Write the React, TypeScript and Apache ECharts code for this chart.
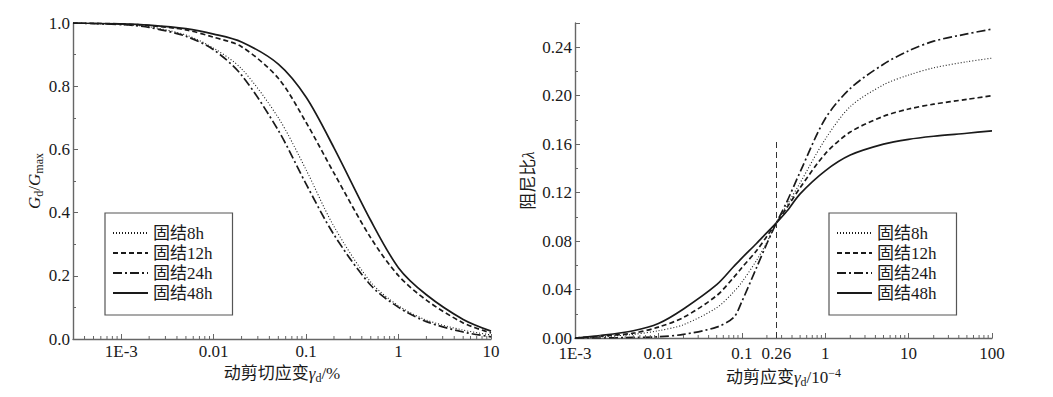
import React, { useEffect, useRef } from 'react';
import * as echarts from 'echarts';

// ---------- data ----------
const seriesNames = ['固结8h', '固结12h', '固结24h', '固结48h'];
const xTickLabels = ['1E-3', '0.01', '0.1', '1', '10', '100']; // exponents -3 .. 2

// Left: G_d/G_max vs dynamic shear strain (%)
const leftX = [0.0003, 0.001, 0.002, 0.005, 0.01, 0.02, 0.05, 0.1, 0.2, 0.5, 1, 2, 5, 10];
const left8h = [1.0, 0.995, 0.988, 0.962, 0.92, 0.855, 0.7, 0.535, 0.356, 0.18, 0.105, 0.06, 0.028, 0.013];
const left12h = [1.0, 0.997, 0.992, 0.978, 0.955, 0.925, 0.825, 0.685, 0.525, 0.32, 0.2, 0.123, 0.051, 0.019];
const left24h = [1.0, 0.995, 0.986, 0.958, 0.915, 0.835, 0.66, 0.49, 0.33, 0.17, 0.1, 0.055, 0.022, 0.007];
const left48h = [1.0, 0.997, 0.993, 0.982, 0.965, 0.94, 0.87, 0.765, 0.605, 0.375, 0.225, 0.14, 0.062, 0.025];

// Right: damping ratio vs dynamic shear strain (1e-4)
const rightX = [0.001, 0.002, 0.005, 0.01, 0.02, 0.05, 0.08, 0.1, 0.15, 0.2, 0.26, 0.35, 0.5, 1, 2, 5, 10, 20, 50, 100];
const right8h = [0, 0.001, 0.003, 0.006, 0.011, 0.025, 0.038, 0.046, 0.064, 0.079, 0.095, 0.11, 0.128, 0.164, 0.191, 0.209, 0.217, 0.223, 0.228, 0.231];
const right12h = [0, 0.0015, 0.004, 0.009, 0.017, 0.035, 0.05, 0.058, 0.072, 0.084, 0.095, 0.108, 0.124, 0.152, 0.17, 0.183, 0.189, 0.193, 0.197, 0.2];
const right24h = [0, 0, 0.0005, 0.001, 0.003, 0.009, 0.017, 0.03, 0.058, 0.078, 0.095, 0.113, 0.137, 0.181, 0.206, 0.226, 0.237, 0.245, 0.251, 0.255];
const right48h = [0, 0.002, 0.006, 0.012, 0.024, 0.044, 0.059, 0.066, 0.078, 0.087, 0.095, 0.105, 0.119, 0.138, 0.151, 0.16, 0.164, 0.1665, 0.169, 0.171];

const leftMinorTicks = [
  0.0004, 0.0005, 0.0006, 0.0007, 0.0008, 0.0009,
  0.002, 0.003, 0.004, 0.005, 0.006, 0.007, 0.008, 0.009,
  0.02, 0.03, 0.04, 0.05, 0.06, 0.07, 0.08, 0.09,
  0.2, 0.3, 0.4, 0.5, 0.6, 0.7, 0.8, 0.9,
  2, 3, 4, 5, 6, 7, 8, 9,
];
const rightMinorTicks = [
  0.002, 0.003, 0.004, 0.005, 0.006, 0.007, 0.008, 0.009,
  0.02, 0.03, 0.04, 0.05, 0.06, 0.07, 0.08, 0.09,
  0.2, 0.3, 0.4, 0.5, 0.6, 0.7, 0.8, 0.9,
  2, 3, 4, 5, 6, 7, 8, 9,
  20, 30, 40, 50, 60, 70, 80, 90,
];
const markerStrain = 0.26;
const markerTop = 0.162;

// ---------- styles ----------
const FONT = "'Liberation Serif', 'Noto Sans CJK SC', serif";
const INK = '#1a1a1a';
const AXIS = '#666666';
const lineStyles: any[] = [
  { type: [1, 2], width: 1.1 },
  { type: [5, 3], width: 1.7 },
  { type: [9, 3, 2, 3], width: 1.7 },
  { type: 'solid', width: 1.7 },
];

const xFormatter = (v: number) => {
  const e = Math.round(Math.log10(v));
  return xTickLabels[e + 3] ?? '';
};

const richBase = {
  a: { fontSize: 17, fontFamily: FONT, color: INK },
  g: { fontSize: 17, fontFamily: FONT, color: INK, fontStyle: 'italic' },
  s: { fontSize: 12, fontFamily: FONT, color: INK, padding: [9, 0, 0, 0] },
  p: { fontSize: 12, fontFamily: FONT, color: INK, padding: [0, 0, 9, 0] },
};

function logAxis(gridIndex: number, min: number, max: number, name: string, margin: number, showMin: boolean, nameGap: number) {
  return {
    type: 'log',
    logBase: 10,
    gridIndex,
    min,
    max,
    name,
    nameLocation: 'middle',
    nameGap,
    nameTextStyle: { fontSize: 17, fontFamily: FONT, color: INK, rich: richBase },
    axisLine: { show: true, lineStyle: { color: AXIS, width: 1.4 } },
    axisTick: { show: true, inside: true, length: 5, lineStyle: { color: AXIS, width: 1 } },
    axisLabel: { color: INK, fontSize: 17, fontFamily: FONT, margin, showMinLabel: showMin, formatter: xFormatter },
    splitLine: { show: false },
  };
}

function valAxis(gridIndex: number, max: number, interval: number, digits: number, name: string, nameGap: number) {
  return {
    type: 'value',
    gridIndex,
    min: 0,
    max,
    interval,
    name,
    nameLocation: 'middle',
    nameRotate: 90,
    nameGap,
    nameTextStyle: { fontSize: 17, fontFamily: FONT, color: INK, rich: richBase },
    axisLine: { show: true, lineStyle: { color: AXIS, width: 1.4 } },
    axisTick: { show: true, inside: true, length: 5, lineStyle: { color: AXIS, width: 1 } },
    minorTick: { show: true, splitNumber: 2, length: 3, lineStyle: { color: AXIS, width: 1 } },
    axisLabel: {
      color: INK, fontSize: 17, fontFamily: FONT, margin: 3, showMaxLabel: digits === 1,
      formatter: (v: number) => v.toFixed(digits),
    },
    splitLine: { show: false },
    minorSplitLine: { show: false },
  };
}

function minorTickSeries(idx: number, ticks: number[]) {
  return {
    type: 'custom',
    xAxisIndex: idx,
    yAxisIndex: idx,
    silent: true,
    clip: false,
    z: 5,
    data: ticks.map((v) => [v, 0]),
    renderItem: (_p: any, api: any) => {
      const pt = api.coord([api.value(0), api.value(1)]);
      return {
        type: 'line',
        shape: { x1: pt[0], y1: pt[1], x2: pt[0], y2: pt[1] - 3 },
        style: { stroke: AXIS, lineWidth: 1 },
      };
    },
  };
}

function lineSeries(idx: number, k: number, xs: number[], ys: number[]) {
  return {
    type: 'line',
    name: seriesNames[k],
    xAxisIndex: idx,
    yAxisIndex: idx,
    data: xs.map((x, i) => [x, ys[i]]),
    symbol: 'none',
    showSymbol: false,
    smooth: 0.3,
    lineStyle: { color: INK, width: lineStyles[k].width, type: lineStyles[k].type },
    itemStyle: { color: INK },
    z: 3,
  };
}

function legendAt(left: number) {
  return {
    data: seriesNames,
    orient: 'vertical',
    left,
    top: 213,
    itemWidth: 35,
    itemHeight: 20,
    itemGap: 0,
    padding: [10, 20, 12, 7],
    borderColor: '#555',
    borderWidth: 1.2,
    selectedMode: false,
    itemStyle: { color: 'rgba(0,0,0,0)', borderColor: 'rgba(0,0,0,0)', borderWidth: 0, opacity: 0 },
    textStyle: { fontSize: 17, fontFamily: FONT, color: INK, lineHeight: 20 },
  };
}

export default function App() {
  const ref = useRef<HTMLDivElement>(null);
  useEffect(() => {
    if (!ref.current) return;
    const chart = echarts.init(ref.current, undefined, { renderer: 'svg' });
    const leftData = [left8h, left12h, left24h, left48h];
    const rightData = [right8h, right12h, right24h, right48h];
    const series: any[] = [];
    leftData.forEach((d, k) => series.push(lineSeries(0, k, leftX, d)));
    rightData.forEach((d, k) => series.push(lineSeries(1, k, rightX, d)));
    // vertical marker line at 0.26 on the right chart
    series[series.length - 1].markLine = {
      silent: true,
      symbol: ['none', 'none'],
      animation: false,
      lineStyle: { color: '#333', width: 1, type: [6, 4] },
      label: {
        show: true,
        position: 'start',
        distance: 7,
        formatter: String(markerStrain),
        color: INK,
        fontSize: 17,
        fontFamily: FONT,
      },
      data: [[{ coord: [markerStrain, 0] }, { coord: [markerStrain, markerTop] }]],
    };
    series.push(minorTickSeries(0, leftMinorTicks));
    series.push(minorTickSeries(1, rightMinorTicks));

    chart.setOption({
      animation: false,
      backgroundColor: '#ffffff',
      textStyle: { fontFamily: FONT, color: INK },
      grid: [
        { left: 73, top: 23, width: 418, height: 316 },
        { left: 575, top: 23, width: 417, height: 315 },
      ],
      xAxis: [
        logAxis(0, 0.0003, 10, '{a|动剪切应变}{g|γ}{s|d}{a|/%}', 4, false, 21),
        logAxis(1, 0.001, 100, '{a|动剪应变}{g|γ}{s|d}{a|/10}{p|−4}', 7, true, 21),
      ],
      yAxis: [
        valAxis(0, 1, 0.2, 1, '{g|G}{s|d}{a|/}{g|G}{s|max}', 28),
        valAxis(1, 0.26, 0.04, 2, '{a|阻尼比}{g|λ}', 38),
      ],
      legend: [legendAt(105), legendAt(829)],
      series,
    });
    return () => chart.dispose();
  }, []);
  return (
    <div
      ref={ref}
      style={{ position: 'absolute', left: 0, top: 0, width: 1053, height: 397, background: '#fff' }}
    />
  );
}
